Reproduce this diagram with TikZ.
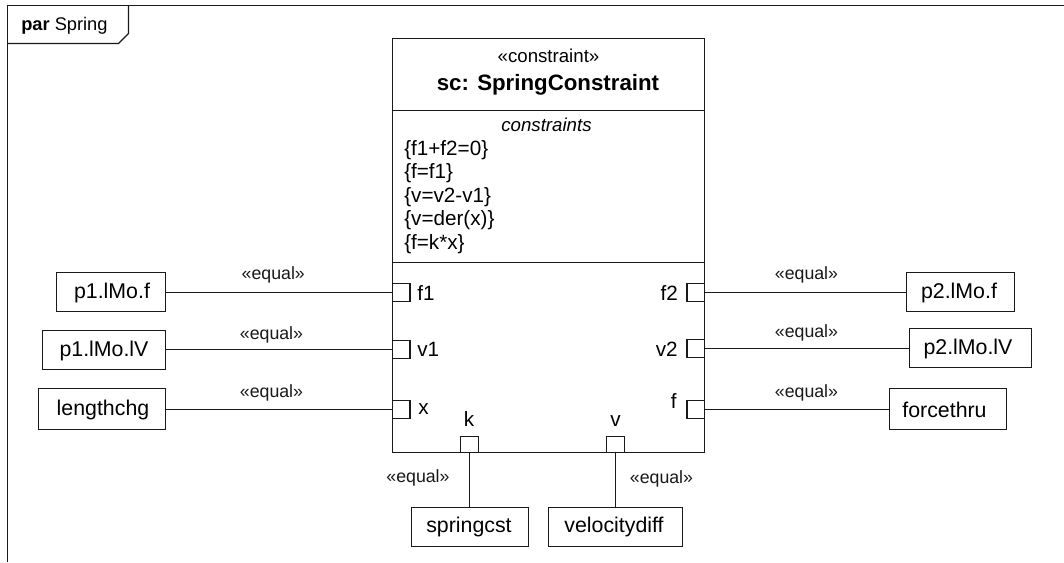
\documentclass[tikz,border=0pt]{standalone}
\usepackage{fontspec}
\setmainfont{Liberation Sans}
\tikzset{
  x=0.75pt,y=-0.75pt,
  line/.style={draw=black!90,line width=1.05pt},
  valbox/.style={line,rectangle,inner sep=0pt,outer sep=0pt,minimum height=29.25pt},
  portbox/.style={line,fill=white,rectangle,minimum width=13pt,minimum height=13.5pt,inner sep=0pt,outer sep=0pt},
  lowport/.style={portbox,minimum width=13.75pt,minimum height=12.2pt},
  lab/.style={inner sep=0pt,font=\fontsize{15.5}{18}\selectfont,text=black},
  vallab/.style={inner sep=0pt,font=\fontsize{16}{18}\selectfont,text=black},
  eqlab/.style={inner sep=0pt,font=\fontsize{13.3}{15}\selectfont,text=black!90},
}
\begin{document}
\begin{tikzpicture}
\useasboundingbox (0,0) rectangle (1064,562);
\fill[white] (0,0) rectangle (1064,562);
% frame
\coordinate (fa) at (7.5,562);
\coordinate (fb) at (7.5,5.5);
\coordinate (fc) at (1064,5.5);
\draw[line] (fa) -- (fb) -- (fc);
\coordinate (t1) at (7.5,43.5);
\coordinate (t2) at (118.5,43.5);
\coordinate (t3) at (128.5,33.5);
\coordinate (t4) at (128.5,5.5);
\draw[line] (t1) -- (t2) -- (t3) -- (t4);
\node[lab,anchor=base west,font=\fontsize{13.7}{17}\selectfont] (title) at (21,30) {\textbf{par} Spring};
% main block
\coordinate (m1) at (392.5,38.5);
\coordinate (m2) at (704.5,452.5);
\draw[line] (m1) rectangle (m2);
\coordinate (d1l) at (392.5,110.5);
\coordinate (d1r) at (704.5,110.5);
\coordinate (d2l) at (392.5,262.5);
\coordinate (d2r) at (704.5,262.5);
\draw[line] (d1l) -- (d1r);
\draw[line] (d2l) -- (d2r);
\node[lab,anchor=base,font=\fontsize{14}{17}\selectfont] (st) at (548.5,62) {«constraint»};
\node[lab,anchor=base,font=\fontsize{16.7}{20}\selectfont\bfseries] (nm) at (548,90.5) {sc: SpringConstraint};
\node[lab,anchor=base,font=\fontsize{14}{17}\selectfont\itshape] (ch) at (546.5,131) {constraints};
\node[lab,anchor=base west] (c1) at (404,155) {\{f1+f2=0\}};
\node[lab,anchor=base west] (c2) at (404,178.5) {\{f=f1\}};
\node[lab,anchor=base west] (c3) at (404,202) {\{v=v2-v1\}};
\node[lab,anchor=base west] (c4) at (404,225.5) {\{v=der(x)\}};
\node[lab,anchor=base west] (c5) at (404,249.5) {\{f=k*x\}};
% value boxes
\node[valbox,minimum width=81.75pt] (a1) at (111,292) {};
\node[vallab] (a1t) at (112,293) {p1.lMo.f};
\node[valbox,minimum width=92.25pt] (a2) at (104,350) {};
\node[vallab] (a2t) at (104,350.7) {p1.lMo.lV};
\node[valbox,minimum width=95.25pt,minimum height=30.75pt] (a3) at (102,409) {};
\node[vallab] (a3t) at (103,410) {lengthchg};
\node[valbox,minimum width=81pt] (b1) at (960.5,292) {};
\node[vallab] (b1t) at (959,293) {p2.lMo.f};
\node[valbox,minimum width=91.5pt] (b2) at (970.5,348) {};
\node[vallab] (b2t) at (968,349) {p2.lMo.lV};
\node[valbox,minimum width=87.75pt,minimum height=30.75pt] (b3) at (948,409) {};
\node[vallab] (b3t) at (944.5,410) {forcethru};
\node[valbox,minimum width=87.75pt] (s1) at (470,527) {};
\node[vallab] (s1t) at (469,527) {springcst};
\node[valbox,minimum width=100.5pt] (s2) at (615.5,527) {};
\node[vallab] (s2t) at (614,527) {velocitydiff};
% ports
\node[portbox,anchor=west] (pf1) at (392.5,292.5) {};
\node[portbox,anchor=west] (pv1) at (392.5,349.5) {};
\node[portbox,anchor=west] (px) at (392.5,409.5) {};
\node[portbox,anchor=east] (pf2) at (704.5,292.5) {};
\node[portbox,anchor=east] (pv2) at (704.5,348.5) {};
\node[portbox,anchor=east] (pf) at (704.5,409.5) {};
\node[lowport,anchor=south] (pk) at (469.5,452.5) {};
\node[lowport,anchor=south] (pvv) at (615.5,452.5) {};
% port labels
\node[lab,anchor=base west] (lf1) at (417,300) {f1};
\node[lab,anchor=base west] (lv1) at (417,356) {v1};
\node[lab,anchor=base west] (lx) at (418,414) {x};
\node[lab,anchor=base east] (lf2) at (678,300) {f2};
\node[lab,anchor=base east] (lv2) at (678,356) {v2};
\node[lab,anchor=base east] (lf) at (677,408.5) {f};
\node[lab,anchor=base] (lk) at (469,426) {k};
\node[lab,anchor=base] (lv) at (615.5,426) {v};
% connectors
\draw[line] (pf1.west) -- (pf1.west -| a1.east);
\draw[line] (pv1.west) -- (pv1.west -| a2.east);
\draw[line] (px.west) -- (px.west -| a3.east);
\draw[line] (pf2.east) -- (pf2.east -| b1.west);
\draw[line] (pv2.east) -- (pv2.east -| b2.west);
\draw[line] (pf.east) -- (pf.east -| b3.west);
\draw[line] (pk.south) -- (pk.south |- s1.north);
\draw[line] (pvv.south) -- (pvv.south |- s2.north);
% equal labels
\node[eqlab] (e1) at (273.3,275) {«equal»};
\node[eqlab] (e2) at (271.5,335) {«equal»};
\node[eqlab] (e3) at (271.5,393) {«equal»};
\node[eqlab] (e4) at (806.5,275) {«equal»};
\node[eqlab] (e5) at (806.5,333) {«equal»};
\node[eqlab] (e6) at (806.5,393) {«equal»};
\node[eqlab] (e7) at (418,478) {«equal»};
\node[eqlab] (e8) at (661.5,479) {«equal»};
\end{tikzpicture}
\end{document}
